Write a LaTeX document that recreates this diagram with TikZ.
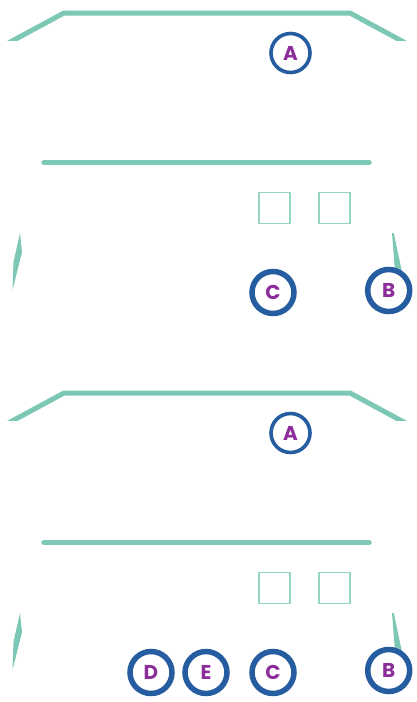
\documentclass[tikz,border=0pt]{standalone}
\usepackage{fontspec}
\usepackage{xcolor}
\usepackage{tikz}
\newfontfamily\tagfont{Poppins}
\definecolor{busteal}{RGB}{125,200,180}
\definecolor{winteal}{RGB}{150,212,196}
\definecolor{ringblue}{RGB}{38,92,160}
\definecolor{tagpurple}{RGB}{140,45,155}

\begin{document}
\begin{tikzpicture}[x=1pt,y=-1pt]
\tikzset{
	roof line/.style = {draw = busteal, line width = 5},
	bar line/.style = {draw = busteal, line width = 5.5, line cap = round},
	window box/.style = {rectangle, draw = winteal, line width = 1.6, minimum size = 31, inner sep = 0},
	thin tag/.style = {circle, draw = ringblue, fill = white, line width = 3.6, minimum size = 39, inner sep = 0,
		text = tagpurple, font = \tagfont\bfseries\fontsize{20}{20}\selectfont},
	thick tag/.style = {circle, draw = ringblue, fill = white, line width = 5.5, minimum size = 42, inner sep = 0,
		text = tagpurple, font = \tagfont\bfseries\fontsize{20}{20}\selectfont},
}
\useasboundingbox (0,0) rectangle (416,702);

\foreach \n/\dy in {1/0,2/380}{
	% roof
	\begin{scope}
	\clip (0,\dy) rectangle (416,\dy+40);
	\draw [roof line] (4,\dy+45.4) -- (64,\dy+13) -- (350,\dy+13) -- (410,\dy+45.4);
	\end{scope}
	\node (A-\n)[thin tag] at (290.5,\dy+53) {A};

	% floor and windows
	\draw [bar line] (44,\dy+162.5) -- (369,\dy+162.5);
	\node (w1-\n)[window box] at (274.5,\dy+207.8) {};
	\node (w2-\n)[window box] at (334.5,\dy+207.8) {};

	% side slivers
	\fill [busteal] (20,\dy+233) -- (22,\dy+252) -- (12.5,\dy+290) -- (13.5,\dy+262) -- cycle;
	\fill [busteal] (392,\dy+233) -- (393.8,\dy+233) -- (402,\dy+272) -- (395,\dy+272) -- cycle;

	\node (C-\n)[thick tag] at (273,\dy+292.5) {C};
	\node (B-\n)[thick tag] at (388.7,\dy+290.5) {B};
}

\node (D)[thick tag] at (151,672.5) {D};
\node (E)[thick tag] at (206,672.5) {E};

\end{tikzpicture}
\end{document}
